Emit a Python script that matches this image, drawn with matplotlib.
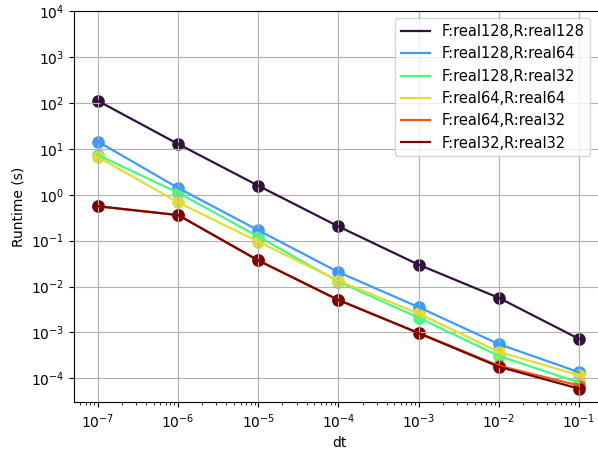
import numpy as np
import matplotlib
matplotlib.use("Agg")
import matplotlib.pyplot as plt
from matplotlib.ticker import NullLocator

dt = [1e-7, 1e-6, 1e-5, 1e-4, 1e-3, 1e-2, 1e-1]
y_ticks = [1e-4, 1e-3, 1e-2, 1e-1, 1e0, 1e1, 1e2, 1e3, 1e4]

labels = [
    "F:real128,R:real128",
    "F:real128,R:real64",
    "F:real128,R:real32",
    "F:real64,R:real64",
    "F:real64,R:real32",
    "F:real32,R:real32",
]

rt_128_128 = [110, 12.7, 1.57, 0.204, 0.030, 0.0057, 7.3e-4]
rt_128_64 = [14.3, 1.40, 0.168, 0.0206, 0.00357, 5.6e-4, 1.37e-4]
rt_128_32 = [7.3, 1.10, 0.122, 0.0128, 0.0021, 3.1e-4, 8.1e-5]
rt_64_64 = [6.6, 0.68, 0.095, 0.0134, 0.0026, 3.8e-4, 1.18e-4]
rt_64_32 = [0.56, 0.36, 0.037, 0.0051, 0.00098, 1.9e-4, 7.0e-5]
rt_32_32 = [0.56, 0.36, 0.037, 0.0051, 0.00097, 1.8e-4, 6.0e-5]

runtimes = [rt_128_128, rt_128_64, rt_128_32, rt_64_64, rt_64_32, rt_32_32]

colors = plt.cm.turbo(np.linspace(0, 1, len(labels)))

fig = plt.figure(figsize=(5.98, 4.53), dpi=100)
ax = fig.add_axes([74 / 598, 50.7 / 453, 530 / 598, 391.3 / 453])

for rt, lab, c in zip(runtimes, labels, colors):
    ax.plot(dt, rt, color=c, label=lab, linewidth=1.6)
    ax.scatter(dt, rt, color=c, s=65)

ax.set_xscale("log")
ax.set_yscale("log")
ax.set_xticks(dt)
ax.set_yticks(y_ticks)
ax.set_xlim(10 ** -7.3, 10 ** -0.685)
ax.set_ylim(10 ** -4.52, 1e4)
ax.yaxis.set_minor_locator(NullLocator())

ax.grid(True)
ax.set_xlabel("dt")
ax.set_ylabel("Runtime (s)")
ax.legend(loc="upper right", bbox_to_anchor=(0.988, 1.0), fontsize=10.5)

fig.savefig("out.png", dpi=100)
